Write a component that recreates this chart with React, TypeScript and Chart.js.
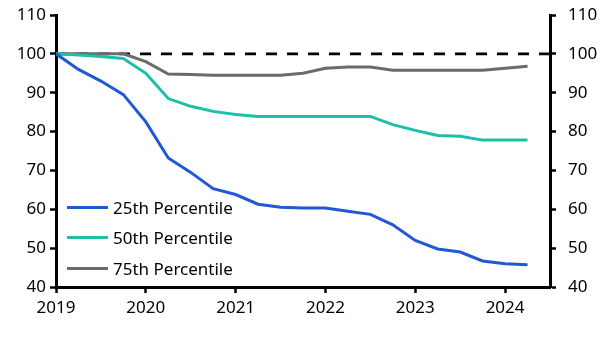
import React, { useEffect, useRef } from "react";
import { Chart, registerables } from "chart.js";

Chart.register(...registerables);

const quarters = [
  2019.0, 2019.25, 2019.5, 2019.75,
  2020.0, 2020.25, 2020.5, 2020.75,
  2021.0, 2021.25, 2021.5, 2021.75,
  2022.0, 2022.25, 2022.5, 2022.75,
  2023.0, 2023.25, 2023.5, 2023.75,
  2024.0, 2024.25,
];

const p25 = [
  100, 96, 93, 89.5,
  82.5, 73.2, 69.5, 65.3,
  63.8, 61.3, 60.5, 60.3,
  60.3, 59.5, 58.7, 56,
  52, 49.8, 49, 46.7,
  46, 45.7,
];

const p50 = [
  100, 99.7, 99.3, 98.8,
  95, 88.5, 86.5, 85.2,
  84.4, 83.9, 83.9, 83.9,
  83.9, 83.9, 83.9, 81.8,
  80.3, 79, 78.8, 77.8,
  77.8, 77.8,
];

const p75 = [
  100, 100, 100, 100,
  98, 94.8, 94.7, 94.5,
  94.5, 94.5, 94.5, 95,
  96.3, 96.6, 96.6, 95.8,
  95.8, 95.8, 95.8, 95.8,
  96.3, 96.8,
];

const xTickYears = [2019, 2020, 2021, 2022, 2023, 2024];

const seriesNames = ["25th Percentile", "50th Percentile", "75th Percentile"];
const seriesColors = ["#2158D4", "#1CBFA8", "#6B6B6B"];

const xMin = 2019;
const xMax = 2024.5;
const yMin = 40;
const yMax = 110;
const yStep = 10;
const baseline = 100;

const FONT = "'Noto Sans', sans-serif";
const FSIZE = 17;

export default function App() {
  const canvasRef = useRef<HTMLCanvasElement | null>(null);

  useEffect(() => {
    const canvas = canvasRef.current;
    if (!canvas) return;
    const toPts = (vals: number[]) => vals.map((v, i) => ({ x: quarters[i], y: v }));
    const seriesVals = [p25, p50, p75];

    const axisGrid = {
      drawOnChartArea: false,
      drawTicks: true,
      tickLength: 6,
      tickWidth: 2.5,
      tickColor: "#000",
    };
    const axisBorder = { display: true, color: "#000", width: 3 };

    const chart = new Chart(canvas, {
      type: "line",
      data: {
        datasets: [
          ...seriesVals.map((vals, i) => ({
            label: seriesNames[i],
            data: toPts(vals),
            borderColor: seriesColors[i],
            backgroundColor: seriesColors[i],
            borderWidth: 3,
            pointRadius: 0,
            tension: 0,
            fill: false,
            order: 1,
          })),
          {
            label: "baseline",
            data: [
              { x: xMin, y: baseline },
              { x: xMax, y: baseline },
            ],
            borderColor: "#000000",
            borderWidth: 2.8,
            borderDash: [11, 10],
            pointRadius: 0,
            fill: false,
            order: 2,
          },
        ],
      },
      options: {
        responsive: false,
        animation: false,
        layout: { padding: { top: 15, left: 0, right: 0, bottom: 0 } },
        plugins: {
          legend: { display: false },
          tooltip: { enabled: false },
        },
        scales: {
          x: {
            type: "linear",
            min: xMin,
            max: xMax,
            afterBuildTicks: (s: any) => {
              s.ticks = xTickYears.map((v) => ({ value: v }));
            },
            ticks: {
              stepSize: 1,
              includeBounds: false,
              color: "#000",
              font: { family: FONT, size: FSIZE },
              padding: 5,
              maxRotation: 0,
              autoSkip: false,
              callback: (v: any) => String(Math.round(Number(v))),
            },
            grid: axisGrid,
            border: axisBorder,
            afterFit: (s: any) => {
              s.height = 59;
              s.paddingLeft = 0;
              s.paddingRight = 0;
            },
          },
          y: {
            position: "left",
            min: yMin,
            max: yMax,
            ticks: {
              stepSize: yStep,
              color: "#000",
              font: { family: FONT, size: FSIZE },
              padding: 4,
            },
            grid: axisGrid,
            border: axisBorder,
            afterFit: (s: any) => {
              s.width = 56;
              s.paddingTop = 0;
              s.paddingBottom = 0;
            },
          },
          y2: {
            position: "right",
            min: yMin,
            max: yMax,
            ticks: {
              stepSize: yStep,
              color: "#000",
              font: { family: FONT, size: FSIZE },
              padding: 12,
            },
            grid: axisGrid,
            border: axisBorder,
            afterFit: (s: any) => {
              s.width = 65;
              s.paddingTop = 0;
              s.paddingBottom = 0;
            },
          },
        },
      },
    });
    return () => chart.destroy();
  }, []);

  const legendTops = [207, 237, 268];

  return (
    <div style={{ position: "fixed", left: 0, top: 0, width: 615, height: 346, background: "#fff" }}>
      <canvas ref={canvasRef} width={615} height={346} style={{ display: "block" }} />
      {seriesNames.map((name, i) => (
        <div
          key={name}
          style={{
            position: "absolute",
            left: 67,
            top: legendTops[i] - 12,
            height: 24,
            display: "flex",
            alignItems: "center",
            fontFamily: FONT,
            fontSize: FSIZE,
            color: "#000",
            whiteSpace: "nowrap",
          }}
        >
          <span style={{ display: "inline-block", width: 41, height: 3, background: seriesColors[i], marginRight: 5 }} />
          <span>{name}</span>
        </div>
      ))}
    </div>
  );
}
